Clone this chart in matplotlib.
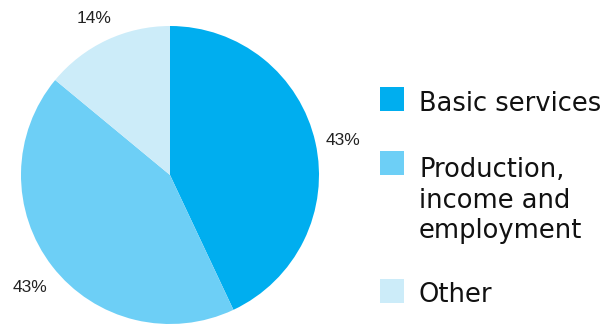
import matplotlib
matplotlib.use("Agg")
import matplotlib.pyplot as plt
import matplotlib.transforms as mtransforms
from matplotlib.patches import Rectangle

# Dati del grafico
categories = ["Basic services", "Production,\nincome and\nemployment", "Other"]
shares = [43, 43, 14]
pct_labels = ["43%", "43%", "14%"]
colors = ["#00AEEF", "#6DCFF6", "#CCECF9"]

W, H = 607, 326
fig = plt.figure(figsize=(W / 100, H / 100), dpi=100)

# pie: centro (170,175) px, raggio ~149 px
cx, cy, r = 170, 175, 149
ax = fig.add_axes([(cx - r) / W, (H - cy - r) / H, 2 * r / W, 2 * r / H])
wedges, texts = ax.pie(shares, colors=colors, startangle=90, counterclock=False,
                       labels=pct_labels, labeldistance=1.19,
                       wedgeprops=dict(linewidth=0),
                       textprops=dict(fontsize=12.5, family="Liberation Sans", color="#222222"))
shift = mtransforms.ScaledTranslation(0, -4 / 100, fig.dpi_scale_trans)
for t in texts:
    t.set_ha("center")
    t.set_va("center")
    t.set_transform(t.get_transform() + shift)
ax.set_xlim(-1, 1)
ax.set_ylim(-1, 1)
ax.axis("off")

# legenda disegnata a mano (baseline dell'ultima riga)
square_tops = [87, 151, 279]
baselines = [111, 238, 302]
for lab, col, top, base in zip(categories, colors, square_tops, baselines):
    fig.patches.append(Rectangle((380 / W, (H - top - 24) / H), 24 / W, 24 / H,
                                 transform=fig.transFigure, facecolor=col, edgecolor="none"))
    fig.text(419 / W, (H - base) / H, lab, fontsize=18.5, family="DejaVu Sans",
             va="baseline", ha="left", color="#111111", linespacing=1.22)

fig.savefig("out.png", dpi=100)
